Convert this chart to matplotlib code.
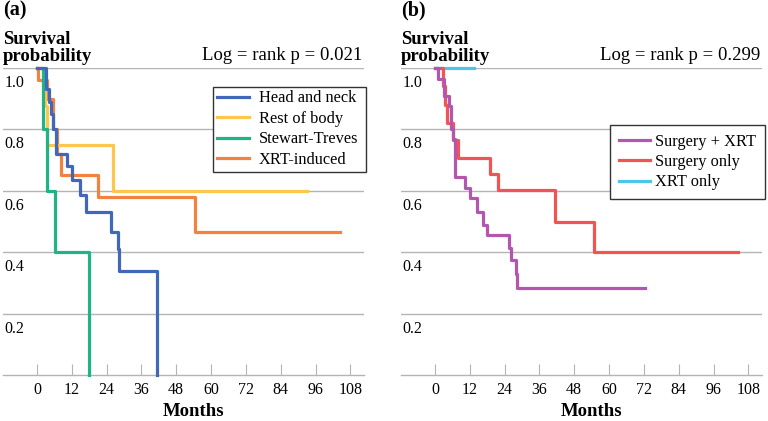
import matplotlib
matplotlib.use("Agg")
import matplotlib.pyplot as plt

# panel (a) - site of origin
hn_t = [0, 3.2, 4.0, 4.8, 5.6, 6.5, 10.5, 12.0, 14.8, 16.9, 25.5, 28.0, 28.4, 41.5]
hn_s = [1.0, 0.93, 0.89, 0.85, 0.80, 0.72, 0.68, 0.635, 0.586, 0.53, 0.467, 0.41, 0.34, 0.0]
rb_t = [0, 2.8, 3.6, 26.3, 93.0]
rb_s = [1.0, 0.875, 0.75, 0.60, 0.60]
st_t = [0, 2.0, 3.6, 6.2, 18.0]
st_s = [1.0, 0.80, 0.60, 0.40, 0.0]
xi_t = [0, 0.5, 3.5, 5.5, 7.0, 8.3, 21.0, 54.5, 104.5]
xi_s = [1.0, 0.96, 0.90, 0.80, 0.72, 0.65, 0.58, 0.467, 0.467]

# panel (b) - treatment
sx_t = [0, 1.2, 3.0, 4.8, 5.5, 6.2, 6.9, 10.3, 12.0, 14.5, 16.6, 18.0, 25.6, 26.2, 27.8, 28.2, 72.5]
sx_s = [1.0, 0.965, 0.91, 0.875, 0.80, 0.77, 0.645, 0.61, 0.575, 0.53, 0.49, 0.455, 0.415, 0.375, 0.33, 0.282, 0.282]
so_t = [0, 2.8, 3.5, 4.0, 6.2, 8.0, 18.9, 21.8, 41.5, 54.7, 104.6]
so_s = [1.0, 0.94, 0.88, 0.82, 0.765, 0.706, 0.655, 0.603, 0.50, 0.40, 0.40]
xo_t = [0, 13.6]
xo_s = [1.0, 1.0]

month_ticks = list(range(0, 109, 12))
prob_ticks = [0.2, 0.4, 0.6, 0.8, 1.0]

plt.rcParams["font.family"] = "serif"
plt.rcParams["font.serif"] = ["Liberation Serif", "DejaVu Serif"]
GRID = "#b4b4b4"


def style_axes(ax, letter, pval):
    ax.set_xlim(-11.7, 112.7)
    ax.set_ylim(0, 1.0)
    for side in ["top", "right", "left"]:
        ax.spines[side].set_visible(False)
    ax.spines["bottom"].set_color(GRID)
    ax.spines["bottom"].set_linewidth(1.0)
    ax.set_yticks(prob_ticks)
    ax.grid(axis="y", color=GRID, linewidth=1.0)
    ax.tick_params(axis="y", length=0, labelleft=False)
    ax.set_xticks(month_ticks)
    ax.tick_params(axis="x", direction="in", length=8, color=GRID,
                   labelsize=11.5, pad=5)
    ax.set_axisbelow(True)
    for p in prob_ticks:
        ax.annotate(f"{p:.1f}", xy=(0, p), xycoords=("axes fraction", "data"),
                    xytext=(1, -5), textcoords="offset points",
                    ha="left", va="top", fontsize=11.5)
    ax.annotate("Months", xy=(54, 0), xycoords=("data", "axes fraction"),
                xytext=(0, -20), textcoords="offset points",
                ha="center", va="top", fontsize=13.5, fontweight="bold")
    ax.annotate("Survival\nprobability", xy=(0, 1), xycoords="axes fraction",
                xytext=(0, 2), textcoords="offset points", ha="left",
                va="bottom", fontsize=13.5, fontweight="bold", linespacing=1.0)
    ax.annotate(f"Log = rank p = {pval}", xy=(1, 1), xycoords="axes fraction",
                xytext=(-1, 3), textcoords="offset points", ha="right",
                va="bottom", fontsize=13.5)
    ax.annotate(letter, xy=(0, 1), xycoords="axes fraction",
                xytext=(0, 34), textcoords="offset points", ha="left",
                va="bottom", fontsize=14.5, fontweight="bold")


def add_legend(ax, order, box, pad, textpad):
    handles, labels = ax.get_legend_handles_labels()
    ax.legend([handles[i] for i in order], [labels[i] for i in order],
              loc="upper left", bbox_to_anchor=box, mode="expand",
              borderaxespad=0, fontsize=11.8, fancybox=False,
              edgecolor="#333333", framealpha=1, handlelength=1.95,
              handletextpad=textpad, labelspacing=0.27, borderpad=pad)


fig = plt.figure(figsize=(7.68, 4.21), dpi=100)
ax_a = fig.add_axes([3 / 768, 46 / 421, 361 / 768, 307 / 421])
ax_b = fig.add_axes([401 / 768, 46 / 421, 361 / 768, 307 / 421])

lw = 2.3
kw = dict(where="post", linewidth=lw, clip_on=False)
ax_a.step(xi_t, xi_s, color="#f5813f", label="XRT-induced", zorder=3, **kw)
ax_a.step(rb_t, rb_s, color="#fdc64c", label="Rest of body", zorder=3, **kw)
ax_a.step(st_t, st_s, color="#1fb488", label="Stewart-Treves", zorder=4, **kw)
ax_a.step(hn_t, hn_s, color="#4168b8", label="Head and neck", zorder=5, **kw)
style_axes(ax_a, "(a)", "0.021")
add_legend(ax_a, [3, 1, 2, 0], (0.583, 0, 0.422, 0.939), 0.23, 0.6)

ax_b.step(xo_t, xo_s, color="#4cc6e8", label="XRT only", zorder=3, **kw)
ax_b.step(so_t, so_s, color="#f25454", label="Surgery only", zorder=4, **kw)
ax_b.step(sx_t, sx_s, color="#b256b0", label="Surgery + XRT", zorder=5, **kw)
style_axes(ax_b, "(b)", "0.299")
add_legend(ax_b, [2, 1, 0], (0.579, 0, 0.428, 0.814), 0.52, 0.3)

fig.savefig("out.png", dpi=100)
